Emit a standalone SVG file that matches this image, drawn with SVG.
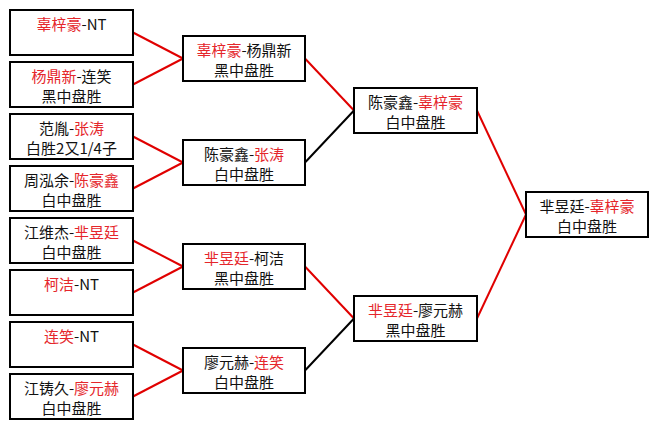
<svg xmlns="http://www.w3.org/2000/svg" width="659" height="429" viewBox="0 0 659 429">
<style>
.box rect{fill:#fff;stroke:#000;stroke-width:2}
text{font-family:"Noto Sans CJK SC","Liberation Sans",sans-serif;font-size:15px;fill:#111;text-anchor:middle}
.r{fill:#e5262b}
.cr{stroke:#e00000;stroke-width:2;fill:none}
.cb{stroke:#000;stroke-width:2;fill:none}
</style>
<rect width="659" height="429" fill="#fff"/>
<g id="connectors">
<line class="cr" x1="133" y1="32.5" x2="183" y2="58.5"/>
<line class="cr" x1="133" y1="84.5" x2="183" y2="58.5"/>
<line class="cr" x1="133" y1="136.5" x2="183" y2="162.5"/>
<line class="cr" x1="133" y1="188.5" x2="183" y2="162.5"/>
<line class="cr" x1="133" y1="240.5" x2="183" y2="266.5"/>
<line class="cr" x1="133" y1="292.5" x2="183" y2="266.5"/>
<line class="cr" x1="133" y1="344.5" x2="183" y2="370.5"/>
<line class="cr" x1="133" y1="396.5" x2="183" y2="370.5"/>
<line class="cr" x1="305" y1="58.5" x2="354" y2="110.5"/>
<line class="cb" x1="305" y1="162.5" x2="354" y2="110.5"/>
<line class="cr" x1="305" y1="266.5" x2="354" y2="318.5"/>
<line class="cb" x1="305" y1="370.5" x2="354" y2="318.5"/>
<line class="cr" x1="477" y1="110.5" x2="526" y2="214.5"/>
<line class="cr" x1="477" y1="318.5" x2="526" y2="214.5"/>
</g>
<g id="n1" class="box"><rect x="10" y="10" width="123" height="45"/><text x="71.5" y="30"><tspan class="r">辜梓豪</tspan>-NT</text></g>
<g id="n2" class="box"><rect x="10" y="62" width="123" height="45"/><text x="71.5" y="82"><tspan class="r">杨鼎新</tspan>-连笑</text><text x="71.5" y="102">黑中盘胜</text></g>
<g id="n3" class="box"><rect x="10" y="114" width="123" height="45"/><text x="71.5" y="134">范胤-<tspan class="r">张涛</tspan></text><text x="71.5" y="154">白胜2又1/4子</text></g>
<g id="n4" class="box"><rect x="10" y="166" width="123" height="45"/><text x="71.5" y="186">周泓余-<tspan class="r">陈豪鑫</tspan></text><text x="71.5" y="206">白中盘胜</text></g>
<g id="n5" class="box"><rect x="10" y="218" width="123" height="45"/><text x="71.5" y="238">江维杰-<tspan class="r">芈昱廷</tspan></text><text x="71.5" y="258">白中盘胜</text></g>
<g id="n6" class="box"><rect x="10" y="270" width="123" height="45"/><text x="71.5" y="290"><tspan class="r">柯洁</tspan>-NT</text></g>
<g id="n7" class="box"><rect x="10" y="322" width="123" height="45"/><text x="71.5" y="342"><tspan class="r">连笑</tspan>-NT</text></g>
<g id="n8" class="box"><rect x="10" y="374" width="123" height="45"/><text x="71.5" y="394">江铸久-<tspan class="r">廖元赫</tspan></text><text x="71.5" y="414">白中盘胜</text></g>
<g id="s1" class="box"><rect x="183" y="36" width="122" height="45"/><text x="244" y="56"><tspan class="r">辜梓豪</tspan>-杨鼎新</text><text x="244" y="76">黑中盘胜</text></g>
<g id="s2" class="box"><rect x="183" y="140" width="122" height="45"/><text x="244" y="160">陈豪鑫-<tspan class="r">张涛</tspan></text><text x="244" y="180">白中盘胜</text></g>
<g id="s3" class="box"><rect x="183" y="244" width="122" height="45"/><text x="244" y="264"><tspan class="r">芈昱廷</tspan>-柯洁</text><text x="244" y="284">黑中盘胜</text></g>
<g id="s4" class="box"><rect x="183" y="348" width="122" height="45"/><text x="244" y="368">廖元赫-<tspan class="r">连笑</tspan></text><text x="244" y="388">白中盘胜</text></g>
<g id="t1" class="box"><rect x="354" y="88" width="123" height="45"/><text x="415.5" y="108">陈豪鑫-<tspan class="r">辜梓豪</tspan></text><text x="415.5" y="128">白中盘胜</text></g>
<g id="t2" class="box"><rect x="354" y="296" width="123" height="45"/><text x="415.5" y="316"><tspan class="r">芈昱廷</tspan>-廖元赫</text><text x="415.5" y="336">黑中盘胜</text></g>
<g id="f1" class="box"><rect x="526" y="192" width="122" height="45"/><text x="587" y="212">芈昱廷-<tspan class="r">辜梓豪</tspan></text><text x="587" y="232">白中盘胜</text></g>
</svg>
